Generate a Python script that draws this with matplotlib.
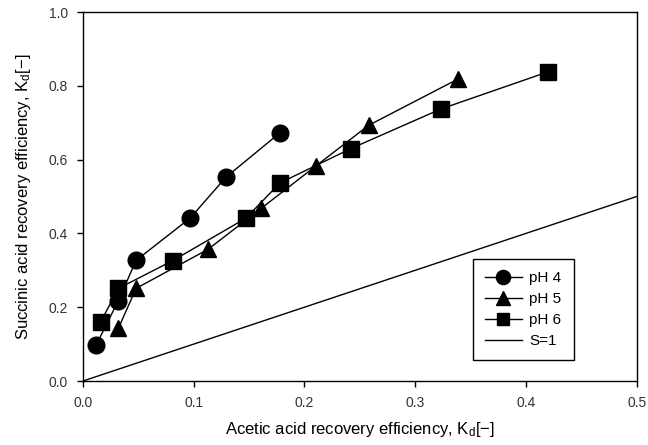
import matplotlib
matplotlib.use("Agg")
import matplotlib.pyplot as plt

plt.rcParams['font.family'] = ['Liberation Sans', 'DejaVu Sans']
plt.rcParams['mathtext.fontset'] = 'custom'
plt.rcParams['mathtext.rm'] = 'Liberation Sans'
plt.rcParams['mathtext.it'] = 'Liberation Sans'

ph4_x = [0.012, 0.032, 0.048, 0.097, 0.129, 0.178]
ph4_y = [0.098, 0.218, 0.327, 0.442, 0.552, 0.673]
ph5_x = [0.032, 0.048, 0.113, 0.161, 0.210, 0.258, 0.339]
ph5_y = [0.143, 0.251, 0.357, 0.468, 0.582, 0.693, 0.819]
ph6_x = [0.016, 0.032, 0.081, 0.147, 0.178, 0.242, 0.323, 0.420]
ph6_y = [0.160, 0.251, 0.326, 0.441, 0.537, 0.630, 0.737, 0.838]
s1_x = [0.0, 0.5]
s1_y = [0.0, 0.5]

fig = plt.figure(figsize=(6.48, 4.45), dpi=100)
ax = fig.add_axes([0.128, 0.1438, 0.8546, 0.8292])

ax.plot(ph4_x, ph4_y, '-o', color='black', lw=1, ms=12, label='pH 4')
ax.plot(ph5_x, ph5_y, '-^', color='black', lw=1, ms=12, label='pH 5')
ax.plot(ph6_x, ph6_y, '-s', color='black', lw=1, ms=11, label='pH 6')
ax.plot(s1_x, s1_y, '-', color='black', lw=1, label='S=1')

ax.set_xlim(0, 0.5)
ax.set_ylim(0, 1.0)
ax.set_xticks([0.0, 0.1, 0.2, 0.3, 0.4, 0.5])
ax.set_yticks([0.0, 0.2, 0.4, 0.6, 0.8, 1.0])
ax.set_xticklabels(['0.0', '0.1', '0.2', '0.3', '0.4', '0.5'])
ax.set_yticklabels(['0.0', '0.2', '0.4', '0.6', '0.8', '1.0'])
ax.tick_params(direction='out', length=4, width=1, labelsize=10, pad=7,
               colors='black', labelcolor='#333333')
for s in ax.spines.values():
    s.set_linewidth(1)

ax.set_xlabel('Acetic acid recovery efficiency, K$_\\mathrm{d}$[\u2212]', fontsize=12, labelpad=7)
ax.set_ylabel('Succinic acid recovery efficiency, K$_\\mathrm{d}$[\u2212]', fontsize=12, labelpad=11)

leg = ax.legend(loc='lower left', bbox_to_anchor=(0.69, 0.036), fancybox=False,
                edgecolor='black', framealpha=1, fontsize=11, handlelength=2.4,
                handletextpad=0.5, markerscale=0.85,
                borderpad=0.8, labelspacing=0.45)
leg.get_frame().set_linewidth(1)

fig.savefig('out.png', dpi=100)
